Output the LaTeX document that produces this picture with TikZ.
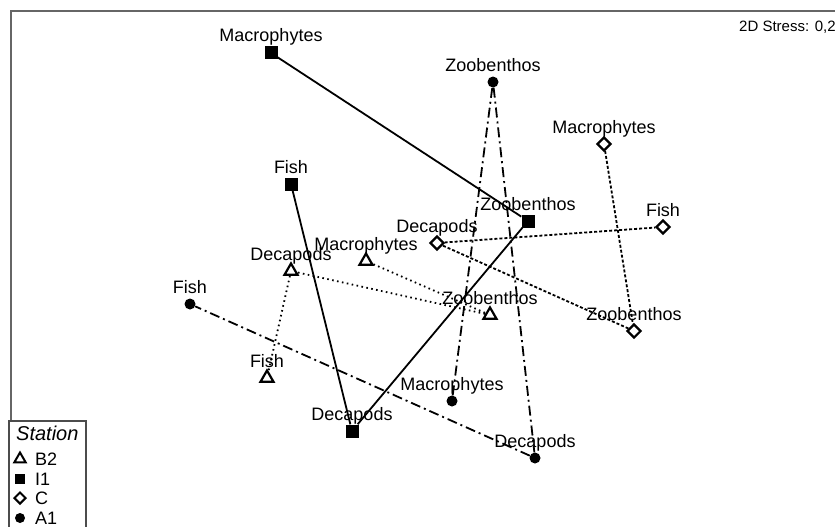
\documentclass[tikz,border=0pt]{standalone}
\usepackage{fontspec}
\setmainfont{Liberation Sans}
\usetikzlibrary{positioning, calc, shapes.geometric}

\begin{document}
\begin{tikzpicture}[x=1pt, y=-1pt,
		lbl/.style={font=\fontsize{18}{20}\selectfont, anchor=base, inner sep=0pt},
		legtxt/.style={font=\fontsize{18}{20}\selectfont, anchor=west, inner sep=0pt},
		markB/.style={regular polygon, regular polygon sides=3, draw, line width=2.2pt, fill=white, minimum size=15pt, inner sep=0pt},
		markI/.style={rectangle, fill=black, minimum size=13pt, inner sep=0pt},
		markC/.style={diamond, draw, line width=2.2pt, fill=white, minimum size=14pt, inner sep=0pt},
		markA/.style={circle, fill=black, minimum size=11pt, inner sep=0pt},
		lineB/.style={line width=1.8pt, dash pattern=on 1.6pt off 3.4pt},
		lineI/.style={line width=1.8pt},
		lineC/.style={line width=1.8pt, dash pattern=on 3pt off 2pt},
		lineA/.style={line width=1.8pt, dash pattern=on 10pt off 4pt on 2pt off 4pt}]
		\useasboundingbox (0,0) rectangle (835,527);
		\clip (0,0) rectangle (835,527);
		\fill[white] (0,0) rectangle (835,527);
		\draw[line width=1.5pt, black!60] (11,530) -- (11,11) -- (835,11);
		\node[anchor=west, inner sep=0pt, font=\fontsize{15}{17}\selectfont] (stress) at (739,27) {2D Stress: 0,2};

		% station I1
		\node[markI] (Imac) at (271,53) {};
		\node[markI] (Ifish) at (291,184) {};
		\node[markI] (Izoo) at (528,221) {};
		\node[markI] (Idec) at (352,431) {};
		% station A1
		\node[markA] (Azoo) at (493,82) {};
		\node[markA] (Afish) at (190,304) {};
		\node[markA] (Amac) at (452,401) {};
		\node[markA] (Adec) at (535,458) {};
		% station C
		\node[markC] (Cmac) at (604,144) {};
		\node[markC] (Cfish) at (663,227) {};
		\node[markC] (Cdec) at (437,243) {};
		\node[markC] (Czoo) at (634,331) {};
		% station B2
		\node[markB] (Bdec) at (291,271) {};
		\node[markB] (Bmac) at (366,261) {};
		\node[markB] (Bzoo) at (490,315) {};
		\node[markB] (Bfish) at (267,378) {};

		\draw[lineI] (Imac) -- (Izoo) -- (Idec) -- (Ifish);
		\draw[lineA] (Amac) -- (Azoo) -- (Adec) -- (Afish);
		\draw[lineC] (Cmac) -- (Czoo) -- (Cdec) -- (Cfish);
		\draw[lineB] (Bmac) -- (Bzoo) -- (Bdec) -- (Bfish);

		\foreach \m/\t in {Imac/Macrophytes, Ifish/Fish, Izoo/Zoobenthos, Idec/Decapods,
				Azoo/Zoobenthos, Afish/Fish, Amac/Macrophytes, Adec/Decapods,
				Cmac/Macrophytes, Cfish/Fish, Cdec/Decapods, Czoo/Zoobenthos,
				Bdec/Decapods, Bmac/Macrophytes, Bzoo/Zoobenthos, Bfish/Fish}
			\node[lbl] (t\m) at ($(\m.center)+(0,-11)$) {\t};

		% legend
		\draw[line width=1.2pt, black!70, fill=white] (9,421) rectangle (86,540);
		\node[legtxt, font=\fontsize{20}{22}\selectfont\itshape] (legtitle) at (16,433) {Station};
		\node[markB, minimum size=13pt, line width=2pt] (legB) at (20,459) {};
		\node[markI, minimum size=10pt] (legI) at (20,479) {};
		\node[markC, minimum size=12pt, line width=2pt] (legC) at (20,498) {};
		\node[markA, minimum size=10pt] (legA) at (20,518) {};
		\node[legtxt, right=15pt of legB.center] (legBt) {B2};
		\node[legtxt, right=15pt of legI.center] (legIt) {I1};
		\node[legtxt, right=15pt of legC.center] (legCt) {C};
		\node[legtxt, right=15pt of legA.center] (legAt) {A1};
	\end{tikzpicture}
\end{document}
